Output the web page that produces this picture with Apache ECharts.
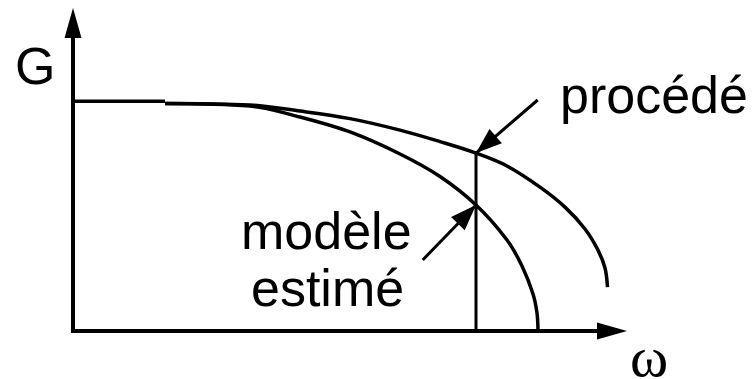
<!DOCTYPE html>
<html>
<head>
<meta charset="utf-8">
<title>G(ω) : procédé et modèle estimé</title>
<script src="https://cdn.jsdelivr.net/npm/echarts@6/dist/echarts.min.js"></script>
<style>
  html, body { margin: 0; padding: 0; background: #ffffff; }
  #chart { width: 754px; height: 379px; }
</style>
</head>
<body>
<div id="chart"></div>
<script>
// Flat low-frequency part of the gain
const plateauOmega = [0, 0.92];
const plateauGain = [1.0, 1.0];

// Gain of the real process
const procedeOmega = [0.92, 1.77, 2.27, 2.77, 3.27, 3.67, 4.03, 4.34, 4.67, 4.92, 5.12, 5.25, 5.32, 5.345];
const procedeGain  = [0.99, 0.983, 0.957, 0.924, 0.874, 0.824, 0.774, 0.718, 0.626, 0.539, 0.444, 0.352, 0.274, 0.191];

// Gain of the estimated model
const modeleOmega = [0.92, 1.77, 2.27, 2.77, 3.27, 3.67, 4.03, 4.34, 4.49, 4.60, 4.64, 4.65];
const modeleGain  = [0.99, 0.979, 0.931, 0.866, 0.770, 0.672, 0.548, 0.396, 0.283, 0.161, 0.078, 0.0];

// Frequency where the two curves are compared
const cutoffIndexProcede = 6;
const cutoffIndexModele = 6;
const cutoffOmega = procedeOmega[cutoffIndexProcede];

// Tails of the two pointer arrows (data space)
const procedeArrowTail = [4.647, 1.005];
const modeleArrowTail = [3.497, 0.309];

// Texts
const yAxisName = 'G';
const xAxisName = 'ω';
const procedeLabel = 'procédé';
const modeleLabel = ['modèle', 'estimé'];

const INK = '#000000';
const SANS = '"Liberation Sans", Arial, Helvetica, sans-serif';
const SERIF = '"Liberation Serif", "Times New Roman", "DejaVu Serif", serif';

const toPairs = (xs, ys) => xs.map((x, i) => [x, ys[i]]);

const chart = echarts.init(document.getElementById('chart'), null, { renderer: 'canvas' });

const axisCommon = {
  type: 'value',
  min: 0,
  axisLine: {
    show: true,
    onZero: false,
    symbol: ['none', 'triangle'],
    symbolSize: [17, 30],
    lineStyle: { color: INK, width: 4, cap: 'square' }
  },
  axisTick: { show: false },
  axisLabel: { show: false },
  splitLine: { show: false }
};

const curveStyle = { color: INK, width: 3.5 };

const arrowLine = (tail, tip) => [
  { coord: tail, symbol: 'none' },
  { coord: tip, symbol: 'triangle' }
];

chart.setOption({
  backgroundColor: '#ffffff',
  animation: false,
  grid: { left: 73, right: 142, top: 23, bottom: 48, containLabel: false },
  xAxis: Object.assign({}, axisCommon, { max: 5.39 }),
  yAxis: Object.assign({}, axisCommon, { max: 1.34 }),
  series: [
    {
      name: 'plateau',
      type: 'line',
      data: toPairs(plateauOmega, plateauGain),
      showSymbol: false,
      symbol: 'none',
      lineStyle: curveStyle
    },
    {
      name: procedeLabel,
      type: 'line',
      data: toPairs(procedeOmega, procedeGain),
      smooth: 0.35,
      showSymbol: false,
      symbol: 'none',
      lineStyle: curveStyle
    },
    {
      name: modeleLabel.join(' '),
      type: 'line',
      data: toPairs(modeleOmega, modeleGain),
      smooth: 0.35,
      showSymbol: false,
      symbol: 'none',
      lineStyle: curveStyle
    },
    {
      name: 'coupure',
      type: 'line',
      data: [[cutoffOmega, 0], [cutoffOmega, procedeGain[cutoffIndexProcede]]],
      showSymbol: false,
      symbol: 'none',
      lineStyle: { color: INK, width: 3 },
      markLine: {
        silent: true,
        animation: false,
        symbol: ['none', 'triangle'],
        symbolSize: [19, 26],
        symbolOffset: [0, [0, 13]],
        label: { show: false },
        lineStyle: { color: INK, width: 3, type: 'solid' },
        itemStyle: { color: INK },
        emphasis: { disabled: true },
        data: [
          arrowLine(procedeArrowTail, [cutoffOmega, procedeGain[cutoffIndexProcede]]),
          arrowLine(modeleArrowTail, [modeleOmega[cutoffIndexModele], modeleGain[cutoffIndexModele]])
        ]
      }
    }
  ],
  graphic: [
    {
      type: 'text', left: 15, top: 44,
      style: { text: yAxisName, font: '52px ' + SANS, fill: INK }
    },
    {
      type: 'text', left: 630, top: 332,
      style: { text: xAxisName, font: '58px ' + SERIF, fill: INK }
    },
    {
      type: 'text', left: 560, top: 73,
      style: { text: procedeLabel, font: '52px ' + SANS, fill: INK }
    },
    {
      type: 'text', left: 241, top: 209,
      style: { text: modeleLabel[0], font: '52px ' + SANS, fill: INK }
    },
    {
      type: 'text', left: 251, top: 266,
      style: { text: modeleLabel[1], font: '52px ' + SANS, fill: INK }
    }
  ]
});
</script>
</body>
</html>
